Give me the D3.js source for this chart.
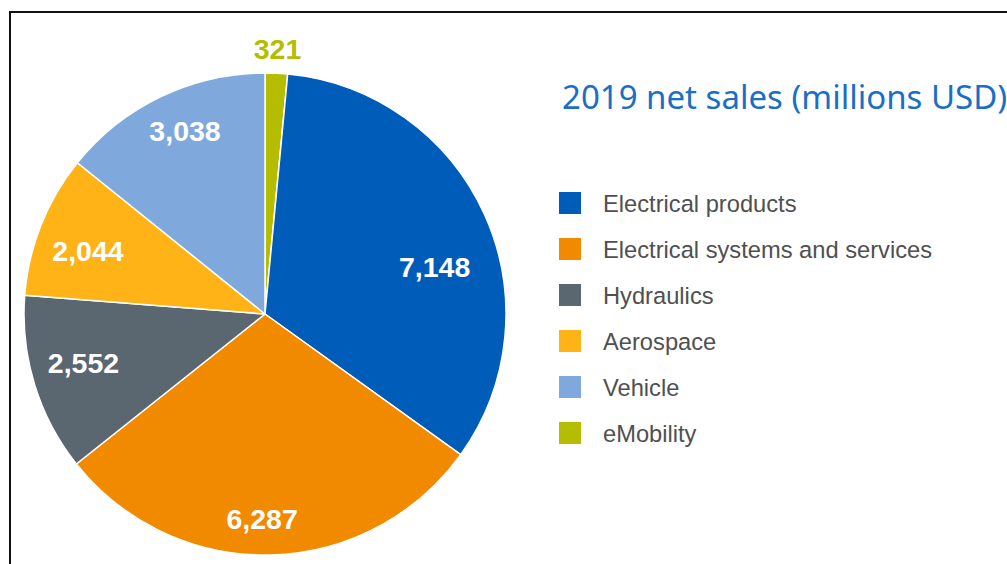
<!DOCTYPE html>
<html>
<head>
<meta charset="utf-8">
<script src="https://cdn.jsdelivr.net/npm/d3@7"></script>
<style>
  html, body { margin: 0; padding: 0; background: #fff; }
  svg { display: block; }
</style>
</head>
<body>
<svg id="chart" width="1007" height="564"></svg>
<script>
/* ── 2019 net sales pie ─────────────────────────────────────────── */

const CATEGORIES = [
  "eMobility",
  "Electrical products",
  "Electrical systems and services",
  "Hydraulics",
  "Aerospace",
  "Vehicle",
];
const VALUES = [321, 7148, 6287, 2552, 2044, 3038];

// legend order differs from slice order
const LEGEND_ORDER = [
  "Electrical products",
  "Electrical systems and services",
  "Hydraulics",
  "Aerospace",
  "Vehicle",
  "eMobility",
];

const TITLE = "2019 net sales (millions USD)";

const COLOR = {
  "Electrical products":             "#005cb9",
  "Electrical systems and services": "#f28a00",
  "Hydraulics":                      "#5b6770",
  "Aerospace":                       "#ffb317",
  "Vehicle":                         "#7fa9dc",
  "eMobility":                       "#b4bd00",
};

// label placement: radius as fraction of R, plus angle nudge (deg)
const LABEL_POS = {
  "Electrical products":             { r: 0.73, da: 9 },
  "Electrical systems and services": { r: 0.85, da: 2.2 },
  "Hydraulics":                      { r: 0.78, da: 2 },
  "Aerospace":                       { r: 0.78, da: -2 },
  "Vehicle":                         { r: 0.83, da: 2 },
  "eMobility":                       { r: 1.10, da: 0 },
};

const W = 1007, H = 564;
const CX = 265, CY = 314, R = 241;

const svg = d3.select("#chart");

// frame (right/bottom edges fall outside the picture)
svg.append("rect")
  .attr("x", 10).attr("y", 12)
  .attr("width", W + 20).attr("height", H + 20)
  .attr("fill", "none")
  .attr("stroke", "#111")
  .attr("stroke-width", 2);

const data = CATEGORIES.map((c, i) => ({ name: c, value: VALUES[i] }));

const pie = d3.pie().value(d => d.value).sort(null);
const arc = d3.arc().innerRadius(0).outerRadius(R);
const fmt = d3.format(",");

const g = svg.append("g").attr("transform", `translate(${CX},${CY})`);
const arcs = pie(data);

g.selectAll("path")
  .data(arcs)
  .join("path")
    .attr("d", arc)
    .attr("fill", d => COLOR[d.data.name])
    .attr("stroke", "#fff")
    .attr("stroke-width", 1.5)
    .attr("stroke-linejoin", "round");

g.selectAll("text")
  .data(arcs)
  .join("text")
    .attr("transform", d => {
      const p = LABEL_POS[d.data.name];
      const a = (d.startAngle + d.endAngle) / 2 + p.da * Math.PI / 180;
      const rr = p.r * R;
      return `translate(${rr * Math.sin(a)},${-rr * Math.cos(a)})`;
    })
    .attr("text-anchor", "middle")
    .attr("dy", "0.36em")
    .attr("font-family", "'Liberation Sans', Arial, sans-serif")
    .attr("font-weight", "bold")
    .attr("font-size", 28.5)
    .attr("fill", d => d.data.name === "eMobility" ? COLOR.eMobility : "#fff")
    .text(d => fmt(d.data.value));

// ── Title ─────────────────────────────────────────────────────────
svg.append("text")
  .attr("x", 562).attr("y", 109)
  .attr("font-family", "'Noto Sans', 'Open Sans', sans-serif")
  .attr("font-size", 33)
  .attr("fill", "#1a6fc4")
  .text(TITLE);

// ── Legend ────────────────────────────────────────────────────────
const legend = svg.append("g").attr("transform", "translate(559,192)");
const rows = legend.selectAll("g")
  .data(LEGEND_ORDER)
  .join("g")
    .attr("transform", (d, i) => `translate(0,${i * 46})`);

rows.append("rect")
  .attr("width", 22).attr("height", 22)
  .attr("fill", d => COLOR[d]);

rows.append("text")
  .attr("x", 44).attr("y", 20)
  .attr("font-family", "'Liberation Sans', Arial, sans-serif")
  .attr("font-size", 23.7)
  .attr("fill", "#505050")
  .text(d => d);
</script>
</body>
</html>
